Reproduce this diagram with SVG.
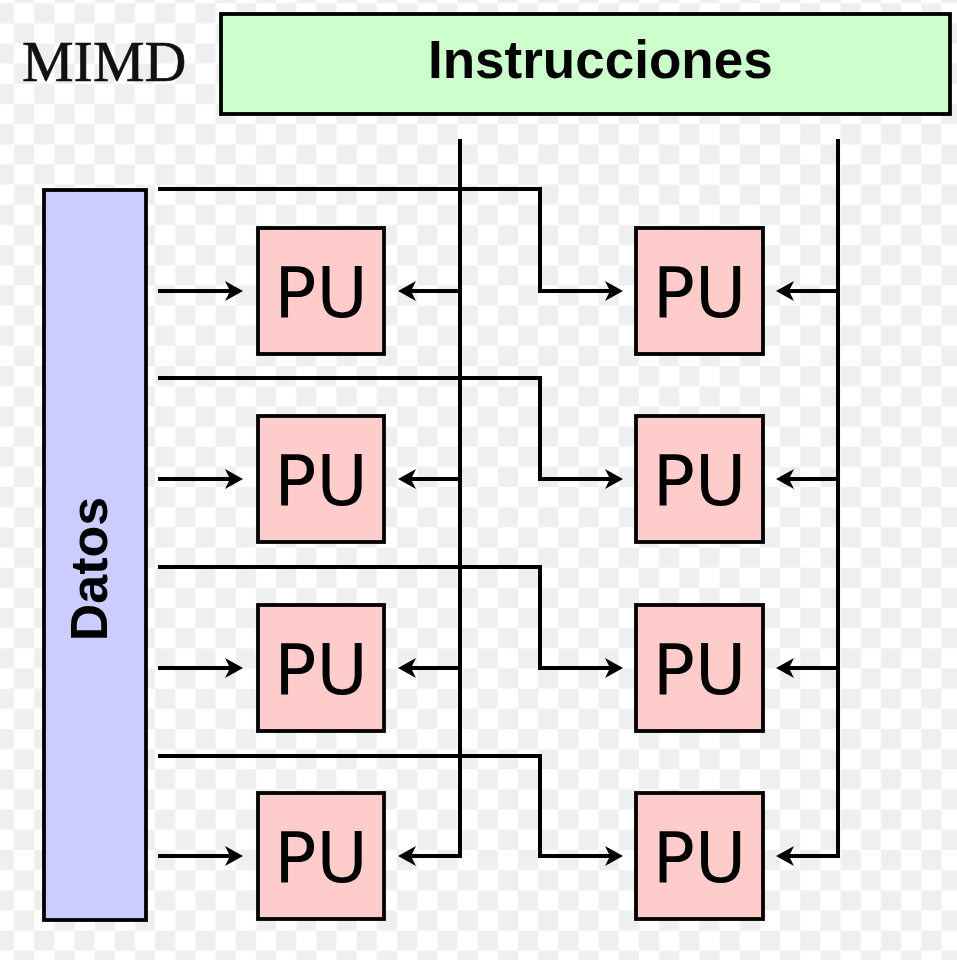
<svg xmlns="http://www.w3.org/2000/svg" width="957" height="960" viewBox="0 0 957 960">
<style>
.box{stroke:#000;stroke-width:3.8}
.pu{fill:#ffcccc}
.put{font-family:"DejaVu Sans",sans-serif;font-size:70px;fill:#000;text-anchor:middle}
.bold{font-family:"Liberation Sans",Arial,sans-serif;font-weight:bold;fill:#000}
.wire{fill:none;stroke:#000;stroke-width:4}
.arr{marker-end:url(#ah)}
</style>
<defs>
<pattern id="chk" patternUnits="userSpaceOnUse" x="-6.16" y="3.2" width="40.32" height="40.32">
<rect width="40.32" height="40.32" fill="#ffffff"/>
<rect width="20.16" height="20.16" fill="#efefef"/>
<rect x="20.16" y="20.16" width="20.16" height="20.16" fill="#efefef"/>
</pattern>
<marker id="ah" markerUnits="userSpaceOnUse" markerWidth="30" markerHeight="30" refX="0" refY="0" viewBox="-15 -15 30 30" orient="auto" overflow="visible">
<path d="M-8,-10 L10,0 L-8,10 L-3,0 Z" fill="#000"/>
</marker>
</defs>
<rect width="957" height="960" fill="url(#chk)"/>
<text x="22" y="81" font-family="'Liberation Serif','Times New Roman',serif" font-size="58" fill="#111" stroke="#111" stroke-width="0.6">MIMD</text>
<g id="instrucciones">
<rect class="box" x="221" y="14" width="729" height="100" fill="#ccffcc"/>
<text class="bold" x="428" y="78" font-size="53">Instrucciones</text>
</g>
<g id="datos">
<rect class="box" x="44" y="190" width="102" height="730" fill="#ccccff"/>
<text class="bold" font-size="52" text-anchor="middle" transform="translate(107,569) rotate(-90)">Datos</text>
</g>
<g id="connectors">
<path class="wire arr" d="M158,291 H233"/>
<path class="wire arr" d="M158,479 H233"/>
<path class="wire arr" d="M158,668 H233"/>
<path class="wire arr" d="M158,856 H233"/>
<path class="wire arr" d="M158,189 H540 V291 H613"/>
<path class="wire arr" d="M158,378 H540 V479 H613"/>
<path class="wire arr" d="M158,567 H540 V668 H613"/>
<path class="wire arr" d="M158,756 H540 V856 H613"/>
<path class="wire arr" d="M460,139 V856 H408"/>
<path class="wire arr" d="M460,291 H408"/>
<path class="wire arr" d="M460,479 H408"/>
<path class="wire arr" d="M460,668 H408"/>
<path class="wire arr" d="M838,139 V856 H786"/>
<path class="wire arr" d="M838,291 H786"/>
<path class="wire arr" d="M838,479 H786"/>
<path class="wire arr" d="M838,668 H786"/>
</g>
<g id="pu-1-1"><rect class="box pu" x="258" y="228" width="126" height="126"/><text class="put" x="321" y="317">PU</text></g>
<g id="pu-1-2"><rect class="box pu" x="636" y="228" width="127" height="126"/><text class="put" x="699.5" y="317">PU</text></g>
<g id="pu-2-1"><rect class="box pu" x="258" y="416" width="126" height="126"/><text class="put" x="321" y="505">PU</text></g>
<g id="pu-2-2"><rect class="box pu" x="636" y="416" width="127" height="126"/><text class="put" x="699.5" y="505">PU</text></g>
<g id="pu-3-1"><rect class="box pu" x="258" y="605" width="126" height="126"/><text class="put" x="321" y="694">PU</text></g>
<g id="pu-3-2"><rect class="box pu" x="636" y="605" width="127" height="126"/><text class="put" x="699.5" y="694">PU</text></g>
<g id="pu-4-1"><rect class="box pu" x="258" y="793" width="126" height="126"/><text class="put" x="321" y="882">PU</text></g>
<g id="pu-4-2"><rect class="box pu" x="636" y="793" width="127" height="126"/><text class="put" x="699.5" y="882">PU</text></g>
</svg>
